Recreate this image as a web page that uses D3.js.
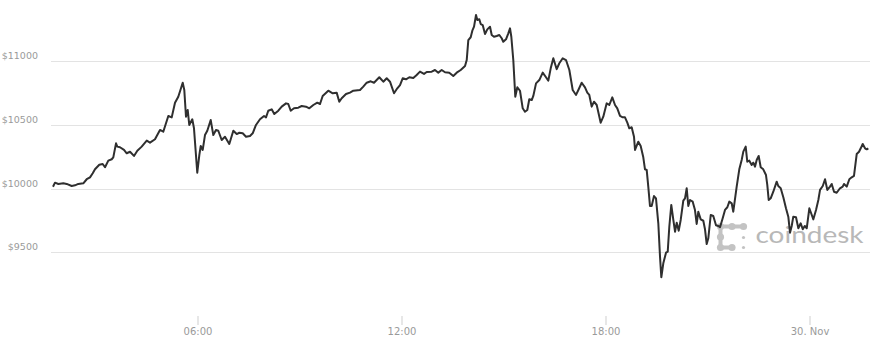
<!DOCTYPE html>
<html>
<head>
<meta charset="utf-8">
<script src="https://cdn.jsdelivr.net/npm/d3@7"></script>
<style>
  html, body { margin: 0; padding: 0; background: #fff; }
  svg { display: block; }
</style>
</head>
<body>
<svg id="chart" width="870" height="352"></svg>
<script>
// Minutes elapsed since 29 Nov 01:45
const minutes = [
  0, 3.5, 9.4, 18.2, 24.2, 33, 38.8, 44.6, 53.5, 59.5, 65.3, 70.1, 74.1, 81.7, 87.7, 91.8, 97.6, 103.6, 106.4, 111.2,
  113.5, 118.2, 125.3, 130.1, 135.9, 142.9, 148.8, 156.5, 165.4, 171.2, 180, 188.8, 194.6, 203.5, 209.5, 215.3, 221.1, 228.9, 231.7, 234.7,
  237.7, 240.5, 245.8, 248.8, 254.6, 258.2, 260.7, 264.2, 268.2, 272.3, 278.3, 282.9, 287.6, 291.7, 297.7, 303.5, 311.1, 318.2, 324.2, 328.8,
  334.8, 340.6, 347.6, 352.4, 358.2, 365.3, 372.4, 375.9, 379.9, 385.9, 390.5, 397.6, 403.6, 411.2, 415.2, 419.5, 425.3, 432.9, 438.9, 446.5,
  452.3, 459.4, 466.4, 471.2, 475.9, 485.8, 493.6, 500.6, 505.2, 509.5, 517.1, 524.1, 530, 541.8, 547.6, 553.6, 560.7, 566.5, 575.8, 582.9,
  588.9, 594.7, 601.8, 607.6, 612.4, 617.1, 623, 628.8, 635.8, 641.8, 647.6, 654.7, 659.5, 668.3, 674.1, 679.9, 685.9, 691.8, 699.3, 706.4,
  712.4, 719.5, 727.1, 730.1, 732.9, 737.1, 740, 743, 746.5, 748.8, 752.3, 754.8, 758.3, 762.4, 766.4, 771.2, 774.2, 778.2, 783, 787.6,
  791.8, 794.6, 799.4, 803.5, 806.5, 808.8, 812.3, 815.8, 819.4, 824.1, 828.9, 832.9, 837, 840.5, 844.8, 847.6, 852.4, 858.2, 864.2, 870,
  874.1, 878.3, 882.9, 888.9, 893.5, 899.5, 905.3, 911.2, 917.1, 923, 927.1, 933, 938.8, 942.9, 946.4, 950.6, 954.7, 959.5, 966.5, 971.1,
  977.1, 981.7, 987, 991.8, 995.8, 1000.6, 1005.4, 1009.4, 1013.5, 1017, 1021.2, 1025.3, 1027.1, 1032.9, 1037.1, 1041.7, 1044.7, 1047.7, 1050.5, 1053.5,
  1056.5, 1060.6, 1064.1, 1068.2, 1071.2, 1073.5, 1077, 1081.8, 1084.8, 1087.6, 1091.1, 1094.7, 1097.7, 1100.7, 1104.2, 1107.7, 1112.3, 1115.3, 1118.3, 1121.1,
  1124.1, 1128.9, 1132.9, 1135.9, 1138.8, 1143, 1147.6, 1150.6, 1153.6, 1156.4, 1160.7, 1165.2, 1170, 1174.1, 1177.1, 1181.8, 1185.9, 1190, 1193.5, 1197.7,
  1200.5, 1206.5, 1211.1, 1215.3, 1218.2, 1222.4, 1225.2, 1228.8, 1233, 1235.8, 1238.8, 1241.8, 1245.3, 1248.9, 1253.4, 1258.2, 1260.5, 1263, 1266.5, 1271.1,
  1277.1, 1279.9, 1284.2, 1288.8, 1293.5, 1297.6, 1300.6, 1303.6, 1306.4, 1311.2, 1315.3, 1319.5, 1323.1, 1326.6, 1330.1, 1334.7, 1339, 1341.8, 1346.5, 1350.6,
  1353.6, 1358.4, 1362.4, 1366.5, 1371.2, 1374.2, 1378.3, 1383, 1388.8, 1393.6, 1395.9, 1400.7, 1405.3, 1409.5, 1413.5, 1418.3, 1422.4, 1425.4, 1428.9, 1433,
  1436, 1438.8
];

// Bitcoin price in USD
const prices = [
  10014, 10046, 10036, 10041, 10036, 10020, 10025, 10036, 10041, 10073, 10088, 10120, 10151, 10187, 10193, 10167, 10219, 10230, 10245, 10355,
  10329, 10324, 10303, 10277, 10289, 10256, 10297, 10329, 10376, 10360, 10387, 10460, 10446, 10570, 10559, 10674, 10721, 10831, 10774, 10564,
  10617, 10499, 10544, 10473, 10124, 10263, 10334, 10303, 10420, 10454, 10538, 10420, 10460, 10454, 10381, 10407, 10350, 10454, 10428, 10438,
  10434, 10407, 10413, 10434, 10499, 10544, 10570, 10559, 10611, 10622, 10585, 10611, 10643, 10669, 10664, 10611, 10630, 10635, 10648, 10643,
  10630, 10656, 10674, 10664, 10727, 10768, 10748, 10753, 10682, 10709, 10742, 10753, 10768, 10774, 10800, 10831, 10842, 10831, 10874, 10839,
  10866, 10839, 10748, 10787, 10813, 10866, 10858, 10874, 10868, 10892, 10918, 10900, 10915, 10918, 10931, 10910, 10931, 10913, 10910, 10884,
  10910, 10931, 10962, 11009, 11166, 11188, 11240, 11271, 11363, 11324, 11329, 11292, 11284, 11214, 11250, 11271, 11206, 11192, 11198, 11206,
  11180, 11153, 11172, 11219, 11258, 11192, 11009, 10721, 10795, 10768, 10630, 10603, 10617, 10701, 10695, 10727, 10826, 10852, 10910, 10874,
  10847, 10944, 11023, 10937, 10984, 11023, 11009, 10931, 10774, 10735, 10774, 10831, 10795, 10753, 10735, 10643, 10682, 10656, 10517, 10564,
  10669, 10656, 10716, 10656, 10630, 10570, 10559, 10559, 10517, 10473, 10481, 10407, 10303, 10368, 10334, 10245, 10151, 10146, 10015, 9863,
  9863, 9941, 9923, 9727, 9465, 9303, 9413, 9496, 9504, 9700, 9871, 9753, 9661, 9732, 9669, 9753, 9905, 9923, 10002, 9863,
  9910, 9897, 9831, 9722, 9818, 9758, 9747, 9680, 9564, 9609, 9792, 9784, 9712, 9706, 9696, 9766, 9832, 9853, 9897, 9884,
  9818, 10015, 10151, 10224, 10290, 10329, 10211, 10219, 10185, 10203, 10172, 10224, 10256, 10167, 10151, 10106, 10028, 9910, 9923, 9975,
  10054, 10020, 10002, 9931, 9845, 9779, 9653, 9706, 9779, 9774, 9688, 9727, 9680, 9706, 9688, 9845, 9792, 9758, 9832, 9910,
  9989, 10020, 10073, 9989, 10015, 10036, 9975, 9967, 10002, 10015, 10036, 10015, 10073, 10088, 10099, 10271, 10289, 10316, 10350, 10316,
  10308, 10316
];

const yTicks = [9500, 10000, 10500, 11000];
const xTickTimes = ["2017-11-29T06:00", "2017-11-29T12:00", "2017-11-29T18:00", "2017-11-30T00:00"];
const startTime = "2017-11-29T01:45";
const endTime = "2017-11-30T01:45";

const parse = d3.timeParse("%Y-%m-%dT%H:%M");
const t0 = parse(startTime);
const data = minutes.map((m, i) => ({ t: new Date(t0.getTime() + m * 60000), v: prices[i] }));

const svg = d3.select("#chart");
const x = d3.scaleTime().domain([t0, parse(endTime)]).range([53, 869]);
const y = d3.scaleLinear().domain([9500, 11000]).range([252.2, 61.2]);

// gridlines
svg.append("g").selectAll("line").data(yTicks).join("line")
  .attr("x1", 51).attr("x2", 870)
  .attr("y1", d => Math.round(y(d)) + 0.5).attr("y2", d => Math.round(y(d)) + 0.5)
  .attr("stroke", "#e3e3e3").attr("stroke-width", 1);

// y labels
svg.append("g").selectAll("text").data(yTicks).join("text")
  .attr("x", 38).attr("y", d => y(d) - 2)
  .attr("text-anchor", "end")
  .attr("font-family", "DejaVu Sans, sans-serif")
  .attr("font-size", "9.5px")
  .attr("fill", "#9a9a9a")
  .text(d => "$" + d);

// x axis
const xAxis = d3.axisBottom(x)
  .tickValues(xTickTimes.map(parse))
  .tickSize(9)
  .tickPadding(3)
  .tickFormat(d => d.getHours() === 0 ? d3.timeFormat("%d. %b")(d) : d3.timeFormat("%H:%M")(d));
const gx = svg.append("g").attr("transform", "translate(0,316)").call(xAxis);
gx.select(".domain").remove();
gx.selectAll(".tick line").attr("stroke", "#cfcfcf");
gx.selectAll(".tick text")
  .attr("font-family", "DejaVu Sans, sans-serif")
  .attr("font-size", "10px")
  .attr("fill", "#9a9a9a");

// coindesk watermark (behind the line)
const logo = svg.append("g").attr("fill", "#c3c3c3").attr("stroke", "#c3c3c3");
logo.append("path").attr("fill", "none").attr("stroke-width", 4).attr("stroke-linecap", "round")
  .attr("d", "M743.5,226.5 L720.5,226.5 L720.5,247.5 L732,247.5");
[[720.5, 226.5], [732, 226.5], [743.5, 226.5], [720.5, 237], [720.5, 247.5], [732, 247.5]].forEach(p => {
  logo.append("circle").attr("cx", p[0]).attr("cy", p[1]).attr("r", 3.6).attr("stroke", "none");
});
[[743.5, 237.5], [743.5, 247.5]].forEach(p => {
  logo.append("circle").attr("cx", p[0]).attr("cy", p[1]).attr("r", 1.6).attr("stroke", "none");
});
svg.append("text")
  .attr("x", 755.5).attr("y", 242.5)
  .attr("font-family", "Lato, sans-serif")
  .attr("font-size", "22.5px")
  .attr("fill", "#b8b8b8")
  .attr("textLength", 108)
  .attr("lengthAdjust", "spacingAndGlyphs")
  .text("coindesk");

// price line
const line = d3.line().x(d => x(d.t)).y(d => y(d.v));
svg.append("path").datum(data)
  .attr("fill", "none")
  .attr("stroke", "#2f2f2f")
  .attr("stroke-width", 2)
  .attr("stroke-linejoin", "round")
  .attr("d", line);
</script>
</body>
</html>
